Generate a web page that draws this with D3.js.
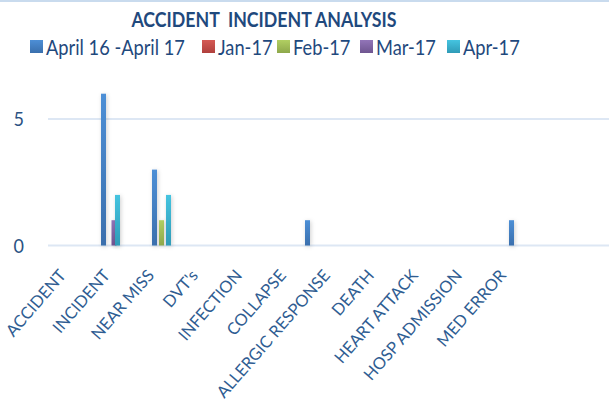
<!DOCTYPE html>
<html>
<head>
<meta charset="utf-8">
<script src="https://cdn.jsdelivr.net/npm/d3@7"></script>
<style>
  body { margin: 0; background: #fff; }
  text { font-family: Lato, "Open Sans", sans-serif; }
</style>
</head>
<body>
<div id="chart"></div>
<script>
// Accident / incident analysis - clustered columns
const categories = ["ACCIDENT", "INCIDENT", "NEAR MISS", "DVT's", "INFECTION", "COLLAPSE",
  "ALLERGIC RESPONSE", "DEATH", "HEART ATTACK", "HOSP ADMISSION", "MED ERROR"];
const seriesNames = ["April 16 -April 17", "Jan-17", "Feb-17", "Mar-17", "Apr-17"];
const yearValues = [0, 6, 3, 0, 0, 1, 0, 0, 0, 1, 0];
const janValues = [0, 0, 0, 0, 0, 0, 0, 0, 0, 0, 0];
const febValues = [0, 0, 1, 0, 0, 0, 0, 0, 0, 0, 0];
const marValues = [0, 1, 0, 0, 0, 0, 0, 0, 0, 0, 0];
const aprValues = [0, 2, 2, 0, 0, 0, 0, 0, 0, 0, 0];
const yTicks = [0, 5];

const seriesValues = [yearValues, janValues, febValues, marValues, aprValues];
const colors = [
  ["#4d8fd6", "#3a6fad"],
  ["#d55a55", "#b0403d"],
  ["#b1cf62", "#8ea84b"],
  ["#9275b8", "#6f5590"],
  ["#45c4e0", "#2f9bb7"]
];

const W = 609, H = 401;
const svg = d3.select("#chart").append("svg").attr("width", W).attr("height", H);
const defs = svg.append("defs");

colors.forEach((c, i) => {
  const g = defs.append("linearGradient").attr("id", "grad" + i)
    .attr("x1", 0).attr("y1", 0).attr("x2", 0).attr("y2", 1);
  g.append("stop").attr("offset", "0%").attr("stop-color", c[0]);
  g.append("stop").attr("offset", "100%").attr("stop-color", c[1]);
});
defs.append("filter").attr("id", "shadow").attr("x", "-100%").attr("width", "300%")
  .append("feDropShadow").attr("dx", 1).attr("dy", 1).attr("stdDeviation", 2)
  .attr("flood-color", "#000").attr("flood-opacity", 0.18);

// top border line
svg.append("rect").attr("x", 0).attr("y", 0).attr("width", W).attr("height", 2).attr("fill", "#c9dbee");

// ! Scales
const x0 = d3.scaleBand().domain(categories).range([48, 609]);
const x1 = d3.scalePoint().domain(seriesNames).range([2, 16]);
const barW = 5;
const y = d3.scaleLinear().domain([0, 5]).range([245.5, 119]);
const xLabel = d3.scalePoint().domain(categories).range([67, 507]);

// ! Gridlines
svg.append("g").selectAll("line").data(yTicks).join("line")
  .attr("x1", 48).attr("x2", W)
  .attr("y1", d => y(d)).attr("y2", d => y(d))
  .attr("stroke", "#dde7f4").attr("stroke-width", 2);

// ! Y axis labels
svg.append("g").selectAll("text").data(yTicks).join("text")
  .attr("transform", d => `translate(24,${y(d) + 7}) scale(0.9,1)`)
  .attr("text-anchor", "end")
  .attr("font-size", 20).attr("fill", "#2b5283")
  .text(d => d);

// ! Bars
seriesNames.forEach((s, si) => {
  svg.append("g").attr("filter", "url(#shadow)")
    .selectAll("rect")
    .data(seriesValues[si].map((v, i) => ({ cat: categories[i], v })).filter(d => d.v > 0))
    .join("rect")
    .attr("x", d => x0(d.cat) + x1(s))
    .attr("y", d => y(d.v))
    .attr("width", barW)
    .attr("height", d => y(0) - y(d.v))
    .attr("fill", `url(#grad${si})`);
});

// ! Category labels
svg.append("g").selectAll("text").data(categories).join("text")
  .attr("transform", d => `translate(${xLabel(d)},276) rotate(-49)`)
  .attr("text-anchor", "end")
  .attr("font-size", 16.5).attr("fill", "#2f5d92")
  .text(d => d);

// ! Title
svg.append("text")
  .attr("transform", "translate(264,27) scale(0.845,1)")
  .attr("text-anchor", "middle")
  .style("white-space", "pre")
  .attr("font-size", 21).attr("font-weight", "bold").attr("fill", "#1f497d")
  .text("ACCIDENT  INCIDENT ANALYSIS");

// ! Legend
const legendX = [30, 202, 277, 360, 447];
const legend = svg.append("g").selectAll("g").data(seriesNames).join("g")
  .attr("transform", (d, i) => `translate(${legendX[i]},40)`);
legend.append("rect").attr("width", 13).attr("height", 13)
  .attr("fill", (d, i) => `url(#grad${i})`);
legend.append("text")
  .attr("transform", "translate(16,14.5) scale(0.83,1)")
  .attr("font-size", 22).attr("fill", "#1f497d")
  .text(d => d);
</script>
</body>
</html>
